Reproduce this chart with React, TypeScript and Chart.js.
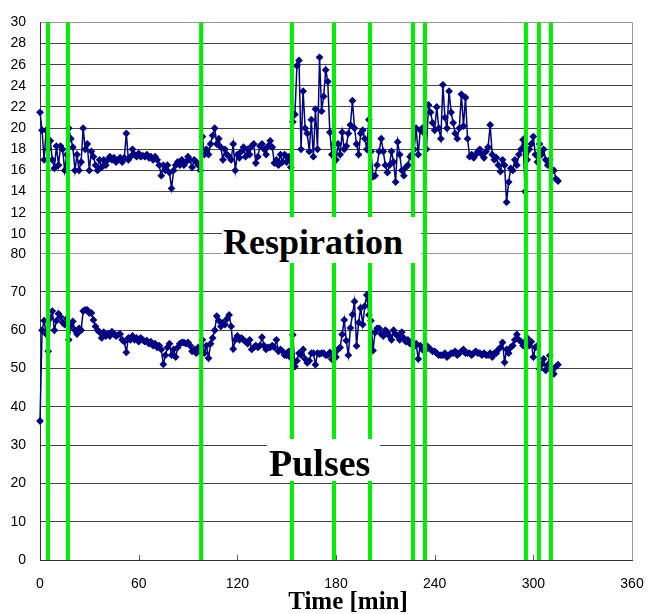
import React, { useEffect, useRef } from 'react';
import { Chart, registerables } from 'chart.js';

Chart.register(...registerables);

// sampling interval of both series (minutes)
const STEP_MIN = 1.25;

// respiration rate (breaths/min), one value every STEP_MIN minutes from t = 0
const respiration = [
  21.5, 19.8, 17.0, 19.8, 18.0, 18.8, 17.0, 16.2, 18.3, 16.5,
  18.3, 18.0, 16.0, 17.5, 20.0, 19.0, 18.2, 16.0, 17.5, 16.0,
  16.8, 20.0, 18.0, 18.5, 16.0, 17.8, 17.3, 16.5, 16.0, 17.0,
  16.3, 17.0, 16.5, 17.0, 17.3, 17.0, 17.2, 16.8, 17.0, 17.2,
  16.8, 17.2, 19.5, 17.0, 17.3, 18.0, 17.5, 17.3, 17.6, 17.3,
  17.4, 17.3, 17.5, 17.2, 17.3, 17.0, 17.3, 17.0, 16.5, 15.5,
  16.5, 16.0, 16.5, 15.8, 14.3, 16.0, 16.5, 16.8, 16.5, 17.0,
  16.5, 16.8, 17.3, 17.0, 16.3, 17.0, 16.8, 16.5, 16.0, 19.2,
  17.5, 18.0, 17.5, 18.5, 19.3, 20.0, 18.5, 19.0, 18.2, 17.0,
  18.0, 17.5, 17.3, 17.0, 18.5, 16.0, 17.5, 17.2, 17.8, 18.2,
  17.3, 18.0, 17.5, 18.3, 18.5, 16.7, 17.3, 18.3, 18.5, 18.0,
  17.5, 18.3, 18.8, 18.2, 16.7, 17.0, 16.5, 17.5, 16.8, 17.5,
  16.8, 17.3, 16.3, 20.6, 21.3, 25.9, 26.4, 18.0, 23.5, 20.0,
  19.5, 17.8, 20.8, 17.3, 21.8, 18.0, 26.7, 21.6, 23.0, 25.5,
  24.4, 19.6, 17.5, 18.5, 17.0, 18.5, 17.5, 19.6, 18.0, 18.3,
  19.5, 20.3, 22.6, 20.0, 18.5, 17.5, 19.5, 19.8, 19.0, 18.0,
  20.8, 17.8, 15.4, 15.5, 16.5, 17.8, 19.0, 17.8, 16.5, 15.8,
  16.5, 17.8, 16.8, 14.9, 18.7, 17.5, 16.0, 15.5, 16.3, 16.5,
  17.3, 17.5, 18.0, 20.0, 17.5, 19.8, 20.0, 19.5, 18.0, 22.2,
  21.5, 20.5, 19.8, 22.0, 20.0, 19.0, 24.1, 21.0, 20.0, 23.5,
  21.5, 20.5, 19.5, 19.0, 20.0, 23.2, 20.2, 22.9, 19.0, 17.3,
  17.5, 17.2, 17.5, 17.8, 18.0, 17.5, 17.2, 17.8, 18.2, 20.3,
  17.5, 17.0, 17.2, 16.5, 15.9, 17.0, 16.5, 13.0, 14.9, 16.2,
  16.0, 17.0, 16.5, 17.5, 18.0, 18.9, 14.0, 17.0, 18.0, 18.5,
  19.2, 17.5, 16.8, 18.5, 17.5, 18.0, 17.0, 16.5, 17.0, 16.0,
  16.0, 15.2, 15.0,
];

// pulse rate (beats/min), same sampling
const pulses = [
  36.3, 60.0, 62.5, 59.0, 54.5, 63.2, 65.0, 60.0, 62.5, 64.3,
  63.5, 62.0, 61.5, 63.0, 57.5, 61.0, 62.3, 60.0, 59.0, 60.5,
  60.0, 65.0, 65.3, 65.3, 64.5, 64.5, 62.7, 61.0, 60.0, 59.5,
  58.0, 59.5, 58.5, 59.0, 58.5, 59.6, 59.0, 58.5, 58.8, 59.0,
  57.5, 57.0, 54.2, 58.0, 57.5, 58.5, 57.5, 58.0, 57.0, 58.0,
  57.5, 57.0, 57.3, 56.5, 57.0, 56.0, 56.5, 55.5, 56.0, 55.0,
  51.1, 53.5, 55.5, 56.5, 53.5, 55.0, 53.0, 55.5, 56.5, 56.8,
  56.8, 56.5, 56.8, 56.0, 54.5, 55.0, 54.0, 55.5, 54.5, 57.5,
  54.0, 56.0, 52.7, 56.5, 58.0, 60.0, 63.7, 62.5, 61.0, 62.0,
  61.5, 63.0, 64.0, 61.0, 55.1, 57.5, 58.5, 57.5, 58.0, 57.5,
  57.0, 56.5, 57.5, 55.0, 55.5, 56.0, 55.5, 56.0, 58.2, 56.0,
  55.0, 55.5, 55.5, 56.0, 55.5, 57.5, 54.5, 55.0, 54.5, 53.5,
  53.5, 54.5, 52.8, 58.8, 50.5, 52.0, 54.0, 53.5, 55.0, 52.5,
  51.5, 52.0, 54.0, 54.0, 51.0, 54.0, 53.8, 54.0, 54.0, 53.5,
  53.5, 54.2, 52.4, 54.0, 53.0, 55.0, 55.5, 58.9, 62.7, 57.3,
  53.5, 60.6, 64.1, 67.5, 55.9, 62.0, 65.8, 61.5, 66.3, 69.2,
  64.0, 62.5, 54.7, 59.4, 60.5, 60.5, 59.0, 58.5, 60.0, 59.5,
  58.5, 57.5, 60.0, 59.0, 58.5, 57.5, 59.5, 58.0, 57.0, 57.5,
  56.5, 57.0, 55.7, 56.5, 52.5, 56.0, 55.0, 54.5, 56.0, 55.5,
  55.0, 54.5, 54.5, 54.0, 53.5, 53.5, 53.5, 54.0, 53.0, 53.5,
  54.0, 54.0, 54.5, 53.5, 54.0, 54.5, 55.0, 54.0, 54.0, 54.0,
  53.5, 54.0, 54.5, 54.0, 54.0, 53.5, 54.0, 53.5, 53.5, 54.0,
  53.0, 54.0, 54.0, 55.0, 55.5, 56.8, 51.6, 55.0, 54.0, 55.5,
  56.0, 57.5, 58.9, 57.5, 57.0, 56.0, 57.0, 58.0, 56.0, 57.0,
  53.0, 55.5, 56.0, 49.9, 51.0, 52.5, 49.5, 51.0, 53.4, 50.0,
  48.6, 50.5, 51.0,
];

// event markers (minutes) drawn as green vertical lines
const eventTimes = [4.9, 17.0, 98.0, 153.2, 178.8, 200.7, 226.8, 234.1, 295.5, 303.4, 310.7];

const xTickValues = [0, 60, 120, 180, 240, 300, 360];
const respTickValues = [10, 12, 14, 16, 18, 20, 22, 24, 26, 28, 30];
const pulseTickValues = [0, 10, 20, 30, 40, 50, 60, 70, 80];

const NAVY = '#000080';
const GREEN = '#00ee00';
const GRID = '#444444';
const FRAME = '#999999';
const AXIS = '#333333';
const TICK_FONT = { family: '"Liberation Sans", Arial, sans-serif', size: 14 };

export default function App() {
  const canvasRef = useRef<HTMLCanvasElement>(null);

  useEffect(() => {
    const canvas = canvasRef.current;
    if (!canvas) return;
    const toPoints = (arr: number[]) => arr.map((v, i) => ({ x: i * STEP_MIN, y: v }));

    const overlay = {
      id: 'overlay',
      beforeDatasetsDraw(chart: any) {
        const { ctx, chartArea } = chart;
        const xs = chart.scales.x;
        ctx.save();
        // inner tick marks on the time axis
        ctx.strokeStyle = '#555555';
        ctx.lineWidth = 1;
        xTickValues.slice(1, -1).forEach((v) => {
          const px = Math.round(xs.getPixelForValue(v)) + 0.5;
          ctx.beginPath();
          ctx.moveTo(px, chartArea.bottom);
          ctx.lineTo(px, chartArea.bottom - 5);
          ctx.stroke();
        });
        // right frame
        ctx.strokeStyle = FRAME;
        ctx.beginPath();
        ctx.moveTo(chartArea.right + 0.5, chartArea.top);
        ctx.lineTo(chartArea.right + 0.5, chartArea.bottom);
        ctx.stroke();
        ctx.restore();
      },
      afterDatasetsDraw(chart: any) {
        const { ctx, chartArea } = chart;
        const xs = chart.scales.x;
        ctx.save();
        ctx.strokeStyle = GREEN;
        ctx.lineWidth = 4;
        eventTimes.forEach((t) => {
          const px = xs.getPixelForValue(t);
          ctx.beginPath();
          ctx.moveTo(px, chartArea.top);
          ctx.lineTo(px, chartArea.bottom);
          ctx.stroke();
        });
        ctx.restore();
      },
    };

    const seriesStyle = {
      borderColor: NAVY,
      backgroundColor: NAVY,
      borderWidth: 1.5,
      pointStyle: 'rectRot',
      pointRadius: 3.9,
      pointBorderWidth: 0,
      pointBackgroundColor: NAVY,
      clip: false as any,
      tension: 0,
    };

    const chart = new Chart(canvas, {
      type: 'line',
      data: {
        datasets: [
          { label: 'Respiration', data: toPoints(respiration), xAxisID: 'x', yAxisID: 'yR', ...seriesStyle } as any,
          { label: 'Pulses', data: toPoints(pulses), xAxisID: 'x', yAxisID: 'yP', ...seriesStyle } as any,
        ],
      },
      options: {
        animation: false,
        responsive: false,
        events: [],
        layout: { padding: { left: 0, right: 30, top: 16, bottom: 0 } },
        plugins: { legend: { display: false }, tooltip: { enabled: false }, title: { display: false } },
        scales: {
          x: {
            type: 'linear',
            position: 'bottom',
            min: 0,
            max: 360,
            afterBuildTicks: (s: any) => { s.ticks = xTickValues.map((v) => ({ value: v })); },
            afterFit: (s: any) => { s.height = 54; },
            ticks: { font: TICK_FONT, color: '#000', padding: 16, maxRotation: 0, autoSkip: false },
            grid: { drawOnChartArea: false, drawTicks: false },
            border: { color: AXIS, width: 1 },
          },
          yP: {
            type: 'linear',
            position: 'left',
            stack: 'v',
            stackWeight: 310,
            min: 0,
            max: 80,
            afterBuildTicks: (s: any) => { s.ticks = pulseTickValues.map((v) => ({ value: v })); },
            afterFit: (s: any) => { s.width = 40; },
            ticks: { font: TICK_FONT, color: '#000', padding: 14, autoSkip: false },
            grid: { color: (c: any) => (c.tick && c.tick.value === 80 ? FRAME : GRID), drawTicks: false, lineWidth: 1 },
            border: { color: AXIS, width: 1 },
          },
          yR: {
            type: 'linear',
            position: 'left',
            stack: 'v',
            stackWeight: 234,
            min: 10 - (20 * 20) / 214,
            max: 30,
            afterBuildTicks: (s: any) => { s.ticks = respTickValues.map((v) => ({ value: v })); },
            afterFit: (s: any) => { s.width = 40; },
            ticks: { font: TICK_FONT, color: '#000', padding: 14, autoSkip: false },
            grid: { color: (c: any) => (c.tick && c.tick.value === 30 ? FRAME : GRID), drawTicks: false, lineWidth: 1 },
            border: { color: AXIS, width: 1 },
          },
        } as any,
      },
      plugins: [overlay],
    });
    return () => chart.destroy();
  }, []);

  const serif = '"Liberation Serif", "Times New Roman", serif';
  return (
    <div style={{ position: 'absolute', left: 0, top: 0, width: 662, height: 614, background: '#fff', overflow: 'hidden' }}>
      <canvas ref={canvasRef} width={662} height={614} style={{ position: 'absolute', left: 0, top: 0, width: 662, height: 614 }} />
      <div style={{ position: 'absolute', left: 222, top: 217, width: 199, height: 46, background: '#fff' }}>
        <span style={{ position: 'absolute', left: 1, top: 7, fontFamily: serif, fontWeight: 'bold', fontSize: 36, lineHeight: '36px', whiteSpace: 'nowrap', color: '#000' }}>Respiration</span>
      </div>
      <div style={{ position: 'absolute', left: 267, top: 439, width: 113, height: 42, background: '#fff' }}>
        <span style={{ position: 'absolute', left: 2, top: 5, fontFamily: serif, fontWeight: 'bold', fontSize: 38, lineHeight: '38px', whiteSpace: 'nowrap', color: '#000' }}>Pulses</span>
      </div>
      <div style={{ position: 'absolute', left: 248, top: 588, width: 200, textAlign: 'center', fontFamily: serif, fontWeight: 'bold', fontSize: 25, lineHeight: '25px', whiteSpace: 'nowrap', color: '#000' }}>Time [min]</div>
    </div>
  );
}
